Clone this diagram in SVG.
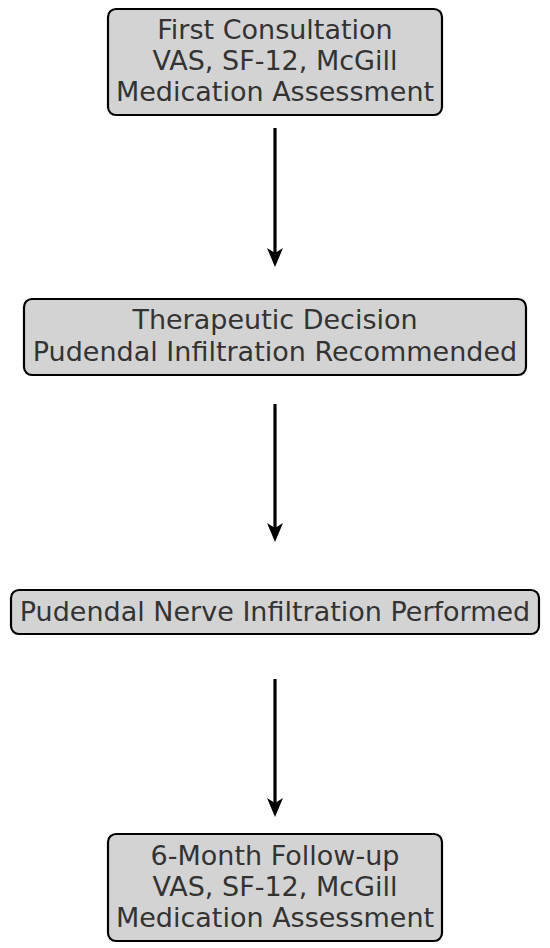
<svg xmlns="http://www.w3.org/2000/svg" width="550" height="948" viewBox="0 0 550 948">
<style>
.box{fill:#d3d3d3;stroke:#000;stroke-width:2.2}
.t{font-family:"DejaVu Sans",sans-serif;font-size:27px;fill:#333;text-anchor:middle}
.c{stroke:#000;stroke-width:3.2;fill:none}
</style>
<defs>
<marker id="ah" viewBox="0 0 19 16" refX="12" refY="8" markerWidth="19" markerHeight="16" markerUnits="userSpaceOnUse" orient="auto">
<path d="M0,0 L19,8 L0,16 L5,8 Z" fill="#000"/>
</marker>
</defs>
<rect width="550" height="948" fill="#fff"/>
<g id="connectors">
<line class="c" x1="275" y1="128" x2="275" y2="260" marker-end="url(#ah)"/>
<line class="c" x1="275" y1="404" x2="275" y2="535" marker-end="url(#ah)"/>
<line class="c" x1="275" y1="679" x2="275" y2="810" marker-end="url(#ah)"/>
</g>
<g id="n1">
<rect class="box" x="108" y="9" width="334" height="106" rx="8"/>
<text class="t" x="275" y="39">First Consultation</text>
<text class="t" x="275" y="70">VAS, SF-12, McGill</text>
<text class="t" x="275" y="101">Medication Assessment</text>
</g>
<g id="n2">
<rect class="box" x="24" y="299" width="502" height="76" rx="8"/>
<text class="t" x="275" y="329">Therapeutic Decision</text>
<text class="t" x="275" y="361">Pudendal Infiltration Recommended</text>
</g>
<g id="n3">
<rect class="box" x="11" y="590" width="528" height="44" rx="8"/>
<text class="t" x="275" y="621">Pudendal Nerve Infiltration Performed</text>
</g>
<g id="n4">
<rect class="box" x="108" y="834" width="334" height="107" rx="8"/>
<text class="t" x="275" y="865">6-Month Follow-up</text>
<text class="t" x="275" y="896">VAS, SF-12, McGill</text>
<text class="t" x="275" y="927">Medication Assessment</text>
</g>
</svg>
